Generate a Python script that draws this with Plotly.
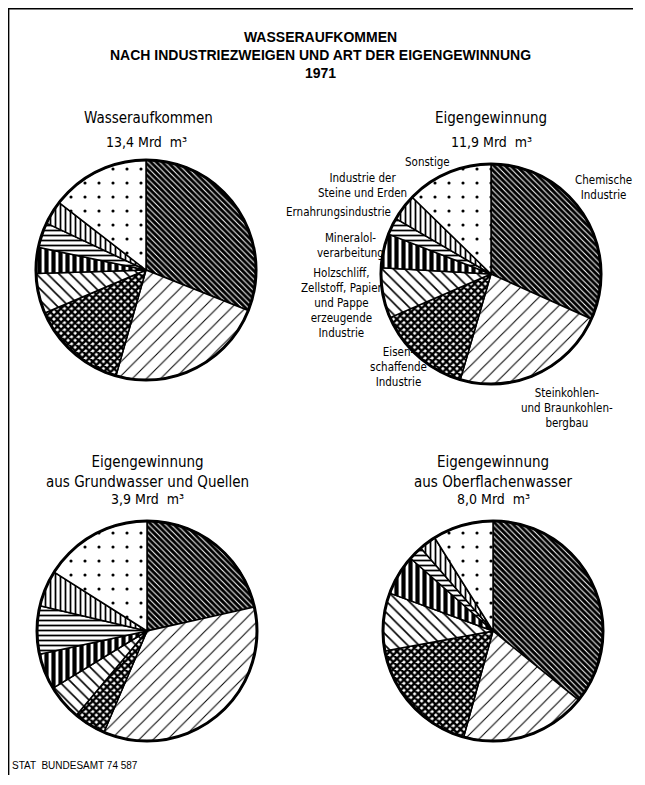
import plotly.graph_objects as go

# ---------------- data ----------------
categories = [
    "Chemische Industrie",
    "Steinkohlen- und Braunkohlenbergbau",
    "Eisenschaffende Industrie",
    "Holzschliff, Zellstoff, Papier und Pappe erzeugende Industrie",
    "Mineralolverarbeitung",
    "Ernahrungsindustrie",
    "Industrie der Steine und Erden",
    "Sonstige",
]
label_text = [
    "Chemische<br>Industrie",
    "Steinkohlen-<br>und Braunkohlen-<br>bergbau",
    "Eisen-<br>schaffende<br>Industrie",
    "Holzschliff,<br>Zellstoff, Papier<br>und Pappe<br>erzeugende<br>Industrie",
    "Mineralol-<br>verarbeitung",
    "Ernahrungsindustrie",
    "Industrie der<br>Steine und Erden",
    "Sonstige",
]
# shares in percent
wasseraufkommen = [31.0, 23.4, 14.2, 5.9, 3.8, 3.7, 3.5, 14.5]
eigengewinnung = [31.7, 22.8, 14.0, 7.4, 5.0, 2.5, 3.9, 12.7]
grundwasser = [21.5, 34.9, 4.7, 5.2, 5.3, 7.1, 5.3, 16.0]
oberflaechenwasser = [35.8, 18.5, 17.8, 8.5, 5.9, 2.1, 2.5, 8.9]

pie_names = [
    "Wasseraufkommen",
    "Eigengewinnung",
    "Eigengewinnung<br>aus Grundwasser und Quellen",
    "Eigengewinnung<br>aus Oberflachenwasser",
]
pie_totals = ["13,4 Mrd  m³", "11,9 Mrd  m³", "3,9 Mrd  m³", "8,0 Mrd  m³"]
main_title = "WASSERAUFKOMMEN<br>NACH INDUSTRIEZWEIGEN UND ART DER EIGENGEWINNUNG<br>1971"
source_note = "STAT  BUNDESAMT 74 587"

# ---------------- styling ----------------
W, H, OFF = 625, 767, 8
NARROW = "Liberation Sans Narrow, DejaVu Sans Condensed, Arial Narrow, Liberation Sans, sans-serif"
REG = "Liberation Sans, Arial, sans-serif"

pat_shape = ["\\", "/", "x", "\\", "|", "-", "|", "."]
pat_size = [4, 10, 5, 8, 7, 5, 5, 14]
pat_sol = [0.75, 0.1, 0.72, 0.2, 0.6, 0.35, 0.35, 0.04]


def px(X):
    return (X - OFF) / W


def py(Y):
    return 1 - (Y - OFF) / H


def dom(cx, cy, r):
    return dict(x=[px(cx - r), px(cx + r)], y=[py(cy + r), py(cy - r)])


centers = [(146, 270), (491, 274), (147, 631), (493, 631)]
R = 110
series = [wasseraufkommen, eigengewinnung, grundwasser, oberflaechenwasser]

fig = go.Figure()
for (cx, cy), vals in zip(centers, series):
    d = dom(cx, cy, R)
    fig.add_trace(go.Pie(
        labels=categories, values=vals, sort=False, direction="clockwise",
        rotation=0, textinfo="none", hoverinfo="label+percent", showlegend=False,
        domain=d,
        marker=dict(
            colors=["white"] * len(categories),
            line=dict(color="black", width=1.5),
            pattern=dict(shape=pat_shape, size=pat_size, solidity=pat_sol,
                         fgcolor=["black"] * len(categories),
                         bgcolor=["white"] * len(categories),
                         fillmode="replace"),
        ),
    ))
    fig.add_trace(go.Pie(
        labels=["outline"], values=[1], sort=False, textinfo="none",
        hoverinfo="skip", showlegend=False, domain=d,
        marker=dict(colors=["rgba(0,0,0,0)"], line=dict(color="black", width=3)),
    ))


def note(x, y, text, size, family=NARROW, xanchor="center", bold=False):
    return dict(x=px(x), y=py(y), text=("<b>%s</b>" % text) if bold else text,
                showarrow=False, xanchor=xanchor, yanchor="middle", align="center",
                font=dict(family=family, size=size, color="black"),
                xref="paper", yref="paper")


ann = [note(320, 55, main_title, 14, family=REG, bold=True)]
name_pos = [(148, 118), (491, 118), (147, 472), (493, 472)]
total_pos = [(146, 142), (491, 142), (147, 499), (493, 499)]
for (tx, ty), t in zip(name_pos, pie_names):
    ann.append(note(tx, ty, t, 15))
for (tx, ty), t in zip(total_pos, pie_totals):
    ann.append(note(tx, ty, t, 14))

label_pos = [(603, 187), (567, 408), (398, 367), (342, 303), (350, 245),
             (338, 212), (362, 185), (427, 162)]
for (lx, ly), t in zip(label_pos, label_text):
    ann.append(note(lx, ly, t, 11.5))

ann.append(note(10, 765, source_note, 10, family=REG, xanchor="left"))

fig.update_layout(
    width=W, height=H, autosize=False,
    margin=dict(l=0, r=0, t=0, b=0),
    paper_bgcolor="white", plot_bgcolor="white",
    annotations=ann,
    shapes=[
        dict(type="line", xref="paper", yref="paper", x0=0, x1=1, y0=0.999, y1=0.999,
             line=dict(color="black", width=1.5)),
        dict(type="line", xref="paper", yref="paper", x0=0.001, x1=0.001, y0=0, y1=1,
             line=dict(color="black", width=1.5)),
    ],
)

fig.write_html("out.html")
